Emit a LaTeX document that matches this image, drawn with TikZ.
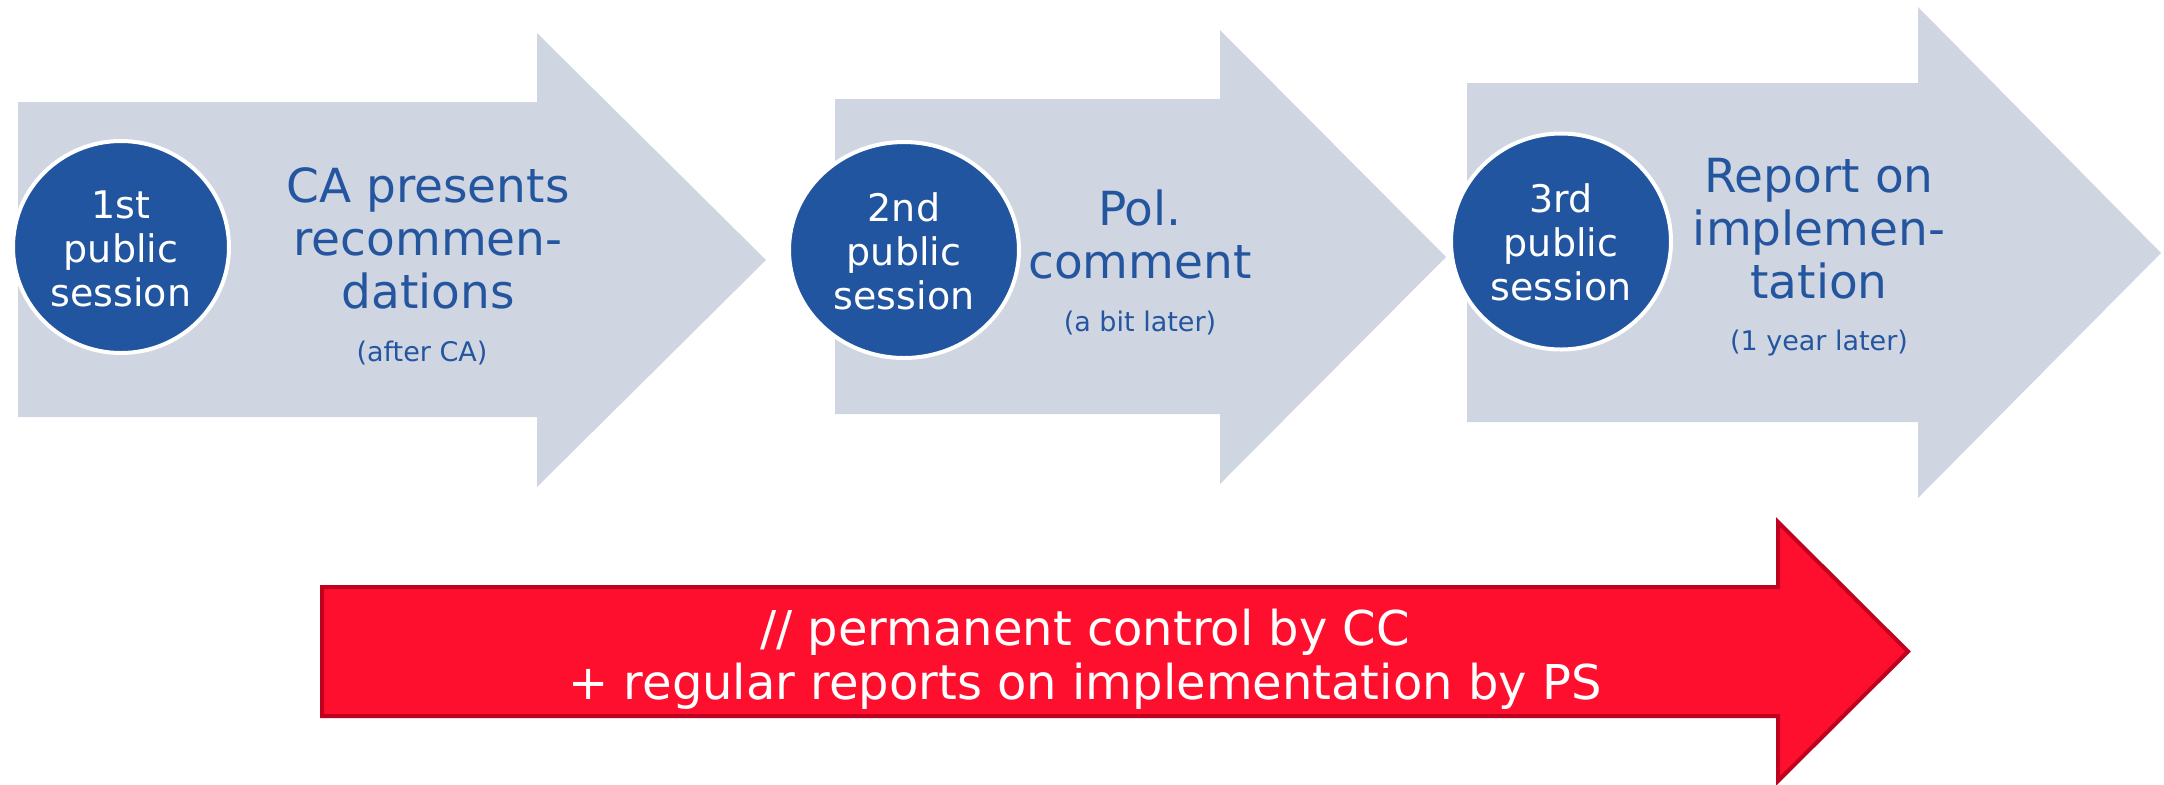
\documentclass[tikz,border=0pt]{standalone}
\usepackage{fontspec}
\setmainfont{DejaVu Sans}
\definecolor{arrowgray}{HTML}{D0D5E2}
\definecolor{circblue}{HTML}{22559F}
\definecolor{txtblue}{HTML}{2456A0}
\definecolor{redfill}{HTML}{FF0F2E}
\definecolor{redline}{HTML}{C0001F}
\tikzset{
  grayarrow/.style={fill=arrowgray, draw=none},
  redarrow/.style={fill=redfill, draw=redline, line width=2pt, line join=miter},
  sess/.style={ellipse, fill=circblue, draw=white, line width=2pt, inner sep=0pt},
  sesstext/.style={text=white, align=center, font=\fontsize{19}{22}\selectfont},
  maintext/.style={text=txtblue, align=center, font=\fontsize{23.5}{26.5}\selectfont},
  smalltext/.style={text=txtblue, align=center, font=\fontsize{13.5}{16}\selectfont},
  redtext/.style={text=white, align=center, font=\fontsize{24}{27}\selectfont},
}
\usetikzlibrary{shapes.geometric}
\begin{document}
\begin{tikzpicture}[x=0.5pt,y=-0.5pt]
\useasboundingbox (0,0) rectangle (2164,784);
% gray arrows
\fill[grayarrow] (18,102) -- (537,102) -- (537,33) -- (766,260) -- (537,487) -- (537,417) -- (18,417) -- cycle;
\fill[grayarrow] (835,99) -- (1220,99) -- (1220,30) -- (1446,257) -- (1220,484) -- (1220,414) -- (835,414) -- cycle;
\fill[grayarrow] (1467,83) -- (1918,83) -- (1918,7) -- (2161,253) -- (1918,498) -- (1918,422) -- (1467,422) -- cycle;
% red arrow
\draw[redarrow] (322,587) -- (1778,587) -- (1778,522) -- (1908,651.5) -- (1778,781) -- (1778,716) -- (322,716) -- cycle;
% circles
\node[sess, minimum width=108pt, minimum height=106pt] (c1) at (121,247) {};
\node[sess, minimum width=115pt, minimum height=108pt] (c2) at (904,250) {};
\node[sess, minimum width=110pt, minimum height=108pt] (c3) at (1561,241.5) {};
\node[sesstext] (t1) at (121,249) {1st\\public\\session};
\node[sesstext] (t2) at (904,251) {2nd\\public\\session};
\node[sesstext] (t3) at (1561,242.5) {3rd\\public\\session};
% main texts
\node[maintext] (m1) at (428,238) {CA presents\\recommen-\\dations};
\node[smalltext] (s1) at (422,353) {(after CA)};
\node[maintext] (m2) at (1140,234) {Pol.\\comment};
\node[smalltext] (s2) at (1140,323) {(a bit later)};
\node[maintext] (m3) at (1819,229) {Report on\\implemen-\\tation};
\node[smalltext] (s3) at (1819,343) {(1 year later)};
% red text
\node[redtext] (r) at (1085,659) {// permanent control by CC\\+ regular reports on implementation by PS};
\end{tikzpicture}
\end{document}
